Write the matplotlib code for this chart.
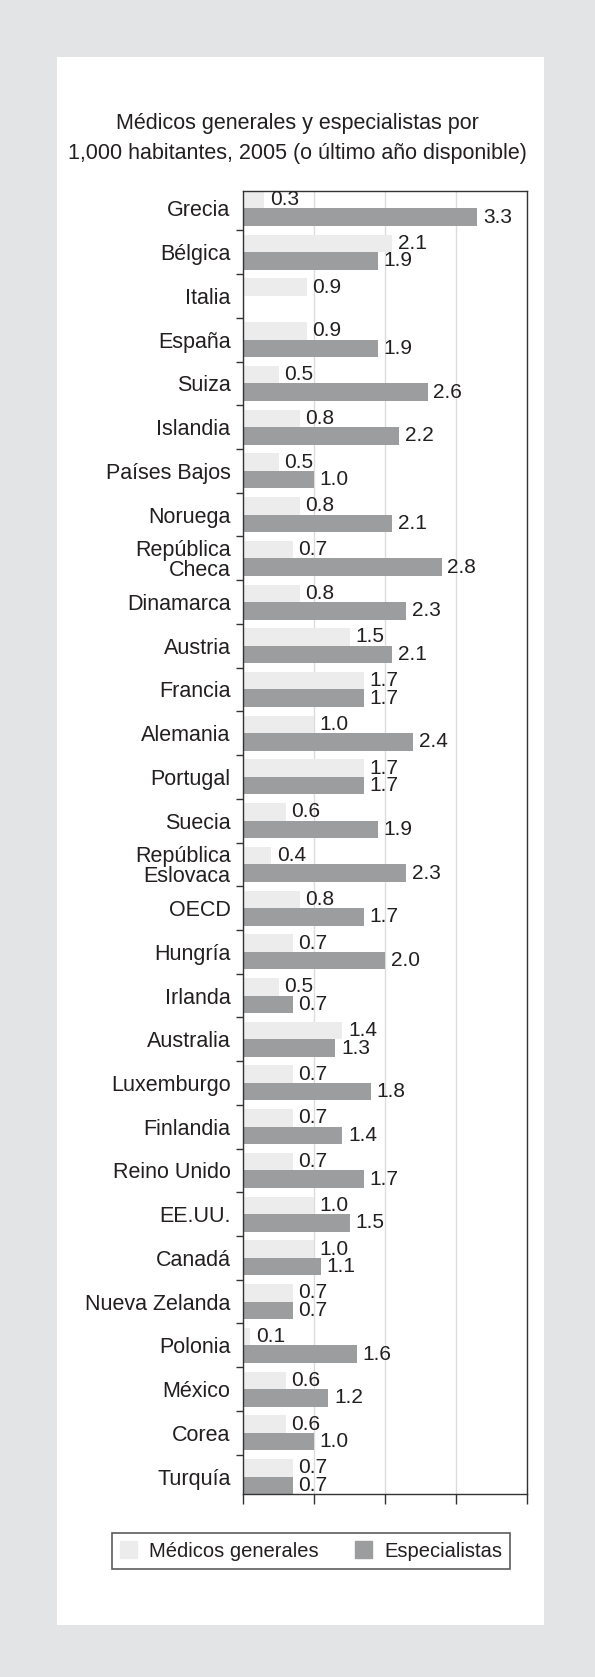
import numpy as np
import matplotlib
matplotlib.use("Agg")
import matplotlib.pyplot as plt
from matplotlib.patches import Rectangle

plt.rcParams["font.family"] = ["Liberation Sans", "DejaVu Sans"]

countries = ["Grecia", "Bélgica", "Italia", "España", "Suiza", "Islandia",
             "Países Bajos", "Noruega", "República\nCheca", "Dinamarca",
             "Austria", "Francia", "Alemania", "Portugal", "Suecia",
             "República\nEslovaca", "OECD", "Hungría", "Irlanda", "Australia",
             "Luxemburgo", "Finlandia", "Reino Unido", "EE.UU.", "Canadá",
             "Nueva Zelanda", "Polonia", "México", "Corea", "Turquía"]
generales = [0.3, 2.1, 0.9, 0.9, 0.5, 0.8, 0.5, 0.8, 0.7, 0.8,
             1.5, 1.7, 1.0, 1.7, 0.6, 0.4, 0.8, 0.7, 0.5, 1.4,
             0.7, 0.7, 0.7, 1.0, 1.0, 0.7, 0.1, 0.6, 0.6, 0.7]
especialistas = [3.3, 1.9, np.nan, 1.9, 2.6, 2.2, 1.0, 2.1, 2.8, 2.3,
                 2.1, 1.7, 2.4, 1.7, 1.9, 2.3, 1.7, 2.0, 0.7, 1.3,
                 1.8, 1.4, 1.7, 1.5, 1.1, 0.7, 1.6, 1.2, 1.0, 0.7]

C_GEN = "#ececec"
C_ESP = "#9c9d9f"
TXT = "#231f20"
FS = 15.5      # country labels
FS_VAL = 15    # value labels

W, H = 595, 1677
fig = plt.figure(figsize=(W / 100, H / 100), dpi=100, facecolor="#e3e4e6")
fig.patches.append(Rectangle((57 / W, 1 - 1625 / H), (544 - 57) / W, (1625 - 57) / H,
                             transform=fig.transFigure, facecolor="white",
                             edgecolor="none", zorder=-5))

ax = fig.add_axes([243 / W, 1 - 1494 / H, (527 - 243) / W, (1494 - 191) / H])
n = len(countries)
y = np.arange(n)
h = 0.4
ax.barh(y - h / 2, generales, height=h, color=C_GEN, zorder=2)
ax.barh(y + h / 2, especialistas, height=h, color=C_ESP, zorder=2)

for yi, g, e in zip(y, generales, especialistas):
    ax.text(g + 0.08, yi - h / 2, f"{g:.1f}", va="center", ha="left",
            fontsize=FS_VAL, color=TXT, zorder=3)
    if not np.isnan(e):
        ax.text(e + 0.08, yi + h / 2, f"{e:.1f}", va="center", ha="left",
                fontsize=FS_VAL, color=TXT, zorder=3)

ax.set_xlim(0, 4)
ax.set_ylim(n - 1 + 0.4, -0.4)
ax.set_xticks([0, 1, 2, 3, 4])
ax.set_xticklabels([])
ax.tick_params(axis="x", length=7, width=1, color="#333333")
ax.set_yticks(y)
ax.set_yticklabels(countries, fontsize=FS, color=TXT, linespacing=0.95)
ax.tick_params(axis="y", which="major", length=0, pad=9)
ax.set_yticks(np.arange(0.5, n - 1, 1), minor=True)
ax.tick_params(axis="y", which="minor", length=5, width=1, color="#333333")
ax.grid(axis="x", color="#dcdcdc", linewidth=1, zorder=1)
ax.set_axisbelow(True)
for s in ax.spines.values():
    s.set_color("#333333")
    s.set_linewidth(1)

fig.text(297 / W, 1 - 123 / H, "Médicos generales y especialistas por",
         ha="center", va="center", fontsize=15.5, color=TXT)
fig.text(297 / W, 1 - 153 / H, "1,000 habitantes, 2005 (o último año disponible)",
         ha="center", va="center", fontsize=15.5, color=TXT)

handles = [Rectangle((0, 0), 1, 1, color=C_GEN), Rectangle((0, 0), 1, 1, color=C_ESP)]
leg = fig.legend(handles, ["Médicos generales", "Especialistas"],
                 loc="center", bbox_to_anchor=(311 / W, 1 - 1551 / H), ncol=2,
                 fontsize=14.5, frameon=True, fancybox=False, handlelength=0.85,
                 handleheight=0.85, handletextpad=0.6, columnspacing=1.8,
                 borderpad=0.4)
leg.get_frame().set_edgecolor("#333333")
leg.get_frame().set_linewidth(1.2)
for t in leg.get_texts():
    t.set_color(TXT)

fig.savefig("out.png", dpi=100, facecolor=fig.get_facecolor())
